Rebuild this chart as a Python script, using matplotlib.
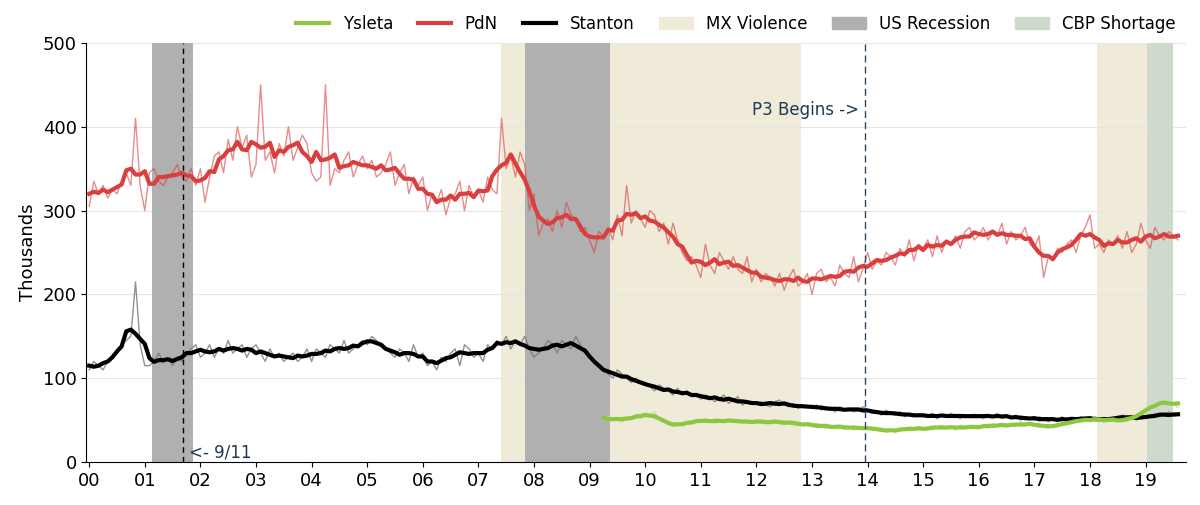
import numpy as np
import pandas as pd
from matplotlib import pyplot as plt
from matplotlib.patches import Patch
from matplotlib.lines import Line2D

# monthly crossings (thousands), Jan 2000 onward
pdn = [
    305, 335, 320, 330, 315, 325, 320, 335, 345, 330, 410, 330,
    300, 345, 350, 335, 330, 340, 345, 355, 340, 335, 350, 330,
    350, 310, 340, 365, 370, 345, 385, 360, 400, 375, 390, 340,
    355, 450, 360, 370, 345, 380, 365, 400, 360, 375, 390, 380,
    345, 335, 340, 450, 330, 350, 345, 360, 370, 340, 355, 365,
    350, 360, 340, 345, 355, 370, 330, 345, 355, 320, 340, 330,
    340, 300, 320, 310, 325, 295, 315, 320, 335, 300, 330, 315,
    325, 310, 340, 325, 320, 410, 350, 365, 340, 370, 355, 300,
    320, 270, 285, 290, 275, 300, 280, 310, 295, 290, 275, 280,
    265, 250, 275, 270, 280, 265, 295, 270, 330, 285, 300, 290,
    280, 300, 295, 275, 285, 260, 285, 265, 250, 240, 245, 235,
    220, 260, 235, 225, 250, 240, 230, 245, 230, 225, 245, 215,
    230, 215, 225, 220, 210, 225, 205, 220, 230, 210, 215, 225,
    200, 225, 230, 215, 220, 210, 235, 225, 220, 245, 215, 230,
    250, 230, 240, 235, 250, 245, 235, 255, 245, 265, 240, 260,
    255, 265, 245, 270, 250, 265, 260, 270, 255, 275, 280, 265,
    270, 280, 265, 275, 270, 285, 260, 275, 265, 270, 280, 260,
    255, 270, 220, 245, 240, 255, 250, 260, 265, 250, 270, 280,
    295, 255, 260, 250, 265, 260, 270, 255, 275, 250, 260, 285,
    265, 255, 280, 270, 265, 275, 270, 265,
]
stanton = [
    110, 120, 115, 110, 120, 125, 130, 140, 145, 150, 215, 140,
    115, 115, 120, 130, 118, 125, 115, 125, 120, 130, 135, 140,
    125, 130, 140, 125, 135, 130, 145, 130, 135, 140, 125, 135,
    140, 130, 120, 135, 125, 130, 120, 125, 130, 120, 125, 135,
    120, 135, 130, 125, 140, 135, 130, 145, 130, 135, 140, 145,
    140, 150, 145, 140, 135, 130, 125, 135, 130, 120, 140, 125,
    130, 115, 120, 110, 125, 120, 130, 135, 115, 140, 135, 125,
    130, 120, 140, 135, 145, 140, 150, 135, 145, 140, 150, 135,
    125, 130, 135, 145, 140, 130, 145, 140, 135, 150, 140, 130,
    125, 120, 115, 110, 105, 100, 110, 105, 100, 95, 100, 95,
    95, 90, 85, 92, 88, 85, 80, 88, 80, 85, 78, 82,
    75, 80, 78, 72, 76, 80, 70, 74, 78, 68, 72, 70,
    70, 72, 68, 66, 72, 74, 68, 66, 70, 64, 68, 66,
    65, 68, 62, 66, 64, 60, 66, 62, 64, 60, 62, 66,
    62, 58, 60, 56, 62, 58, 56, 60, 54, 58, 56, 55,
    56, 54, 58, 52, 56, 54, 58, 55, 52, 56, 54, 57,
    55, 52, 56, 54, 58, 52, 55, 53, 56, 50, 54, 52,
    50, 54, 52, 48, 52, 50, 54, 48, 52, 50, 54, 52,
    50, 54, 52, 48, 52, 50, 54, 56, 52, 55, 50, 54,
    52, 55, 58, 54, 56, 60, 55, 56,
]
# Ysleta starts April 2009
ysleta_start = 9 + 3 / 12
ysleta = [
    50, 55, 52, 50, 48, 52, 54, 56, 52,
    58, 55, 60, 52, 48, 45, 42, 46, 44, 48, 46, 50,
    48, 52, 50, 46, 48, 50, 52, 48, 50, 46, 48, 50,
    48, 46, 50, 48, 46, 48, 50, 46, 44, 48, 46, 44,
    42, 46, 44, 40, 44, 42, 40, 44, 42, 38, 42, 40,
    42, 40, 38, 40, 36, 38, 36, 40, 38, 42, 40, 38,
    40, 42, 38, 42, 44, 40, 42, 38, 44, 42, 40, 42,
    42, 44, 40, 46, 44, 42, 46, 44, 42, 48, 44, 46,
    44, 46, 42, 40, 44, 42, 46, 48, 46, 50, 48, 52,
    52, 50, 48, 54, 50, 48, 52, 50, 48, 52, 55, 58,
    60, 65, 70, 72, 68, 75, 70, 65,
]

mx_violence = [(7.4, 12.8), (18.13, 19.03)]
us_recession = [(1.13, 1.87), (7.83, 9.37)]
cbp_shortage = [(19.03, 19.5)]
tick_labels = [f"{y:02d}" for y in range(20)]

GREEN = "#8dc63f"
RED = "#d93f3f"


def smooth(vals):
    return pd.Series(vals).rolling(5, center=True, min_periods=1).mean()


def main():
    fig, ax = plt.subplots(figsize=(12, 5.05), dpi=100)
    fig.subplots_adjust(left=0.072, right=0.988, top=0.915, bottom=0.085)

    for a, b in mx_violence:
        ax.axvspan(a, b, color="#efebd8", lw=0, zorder=0)
    for a, b in us_recession:
        ax.axvspan(a, b, color="#b0b0b0", lw=0, zorder=0.5)
    for a, b in cbp_shortage:
        ax.axvspan(a, b, color="#cfdacf", lw=0, zorder=0.6)

    for y in range(100, 501, 100):
        ax.axhline(y, color="#e6e6e6", lw=0.8, zorder=0.2)

    t_main = np.arange(len(pdn)) / 12
    t_y = ysleta_start + np.arange(len(ysleta)) / 12

    ax.plot(t_main, pdn, color=RED, lw=1, alpha=0.6)
    ax.plot(t_main, stanton, color="#777777", lw=1, alpha=0.8)
    ax.plot(t_y, ysleta, color="#c5e3a0", lw=1)
    ax.plot(t_main, smooth(pdn), color=RED, lw=3)
    ax.plot(t_main, smooth(stanton), color="black", lw=3)
    ax.plot(t_y, smooth(ysleta), color=GREEN, lw=3)

    ax.axvline(1.69, color="black", ls=(0, (4, 3)), lw=1)
    ax.axvline(13.95, color="#2d4a63", ls=(0, (5, 3)), lw=1)
    ax.text(1.8, 12, "<- 9/11", color="#1e3a52", fontsize=12, va="center")
    ax.text(13.85, 420, "P3 Begins ->", color="#1e3a52", fontsize=12,
            ha="right", va="center")

    ax.set_xlim(-0.05, 19.72)
    ax.set_ylim(0, 500)
    ax.set_xticks(range(20))
    ax.set_xticklabels(tick_labels, fontsize=13)
    ax.set_yticks(range(0, 501, 100))
    ax.tick_params(axis="y", labelsize=13)
    ax.set_ylabel("Thousands", fontsize=13)
    for s in ["top", "right"]:
        ax.spines[s].set_visible(False)

    handles = [
        Line2D([], [], color=GREEN, lw=3, label="Ysleta"),
        Line2D([], [], color=RED, lw=3, label="PdN"),
        Line2D([], [], color="black", lw=3, label="Stanton"),
        Patch(color="#efebd8", label="MX Violence"),
        Patch(color="#b0b0b0", label="US Recession"),
        Patch(color="#cfdacf", label="CBP Shortage"),
    ]
    ax.legend(handles=handles, loc="lower right", bbox_to_anchor=(1.0, 1.0),
              ncol=6, frameon=False, fontsize=12, handlelength=2,
              columnspacing=1.5, borderaxespad=0.2)

    fig.savefig("out.png")


if __name__ == "__main__":
    main()
